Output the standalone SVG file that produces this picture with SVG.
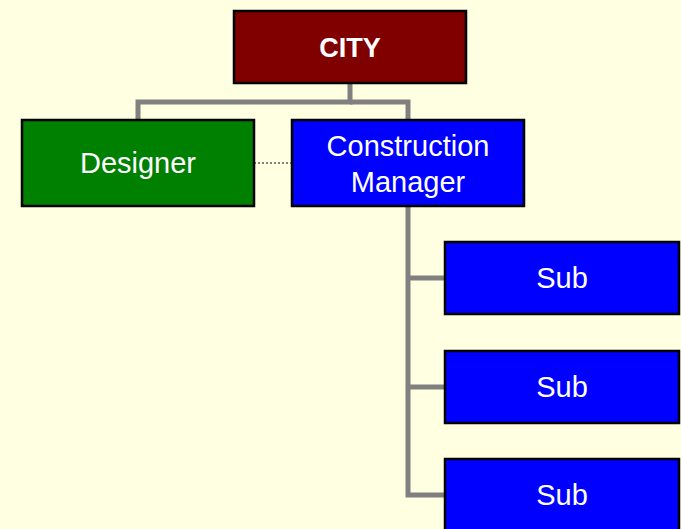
<svg xmlns="http://www.w3.org/2000/svg" width="681" height="529" viewBox="0 0 681 529">
<style>
.box{stroke:#000;stroke-width:2.5}
.t{font-family:"Liberation Sans",Arial,sans-serif;font-size:29px;fill:#fff;text-anchor:middle}
.c{fill:none;stroke:#808080;stroke-width:5}
</style>
<rect width="681" height="529" fill="#FFFFE1"/>
<g id="connectors">
<polyline class="c" points="350,83 350,102 138,102 138,120"/>
<polyline class="c" points="350,102 408,102 408,120"/>
<polyline class="c" points="408,206 408,495 445,495"/>
<line class="c" x1="408" y1="278" x2="445" y2="278"/>
<line class="c" x1="408" y1="387" x2="445" y2="387"/>
<line x1="254" y1="163" x2="292" y2="163" stroke="#808080" stroke-width="2" stroke-dasharray="2,2"/>
</g>
<g id="city"><rect class="box" x="234" y="11" width="232" height="72" fill="#800000"/><text class="t" x="350" y="57" style="font-weight:bold;font-size:27px">CITY</text></g>
<g id="designer"><rect class="box" x="22" y="120" width="232" height="86" fill="#008000"/><text class="t" x="138" y="173">Designer</text></g>
<g id="cm"><rect class="box" x="292" y="120" width="232" height="86" fill="#0000FF"/><text class="t" x="408" y="156">Construction</text><text class="t" x="408" y="192">Manager</text></g>
<g id="sub1"><rect class="box" x="445" y="242" width="234" height="72" fill="#0000FF"/><text class="t" x="562" y="288">Sub</text></g>
<g id="sub2"><rect class="box" x="445" y="351" width="234" height="72" fill="#0000FF"/><text class="t" x="562" y="397">Sub</text></g>
<g id="sub3"><rect class="box" x="445" y="459" width="234" height="72" fill="#0000FF"/><text class="t" x="562" y="505">Sub</text></g>
</svg>
